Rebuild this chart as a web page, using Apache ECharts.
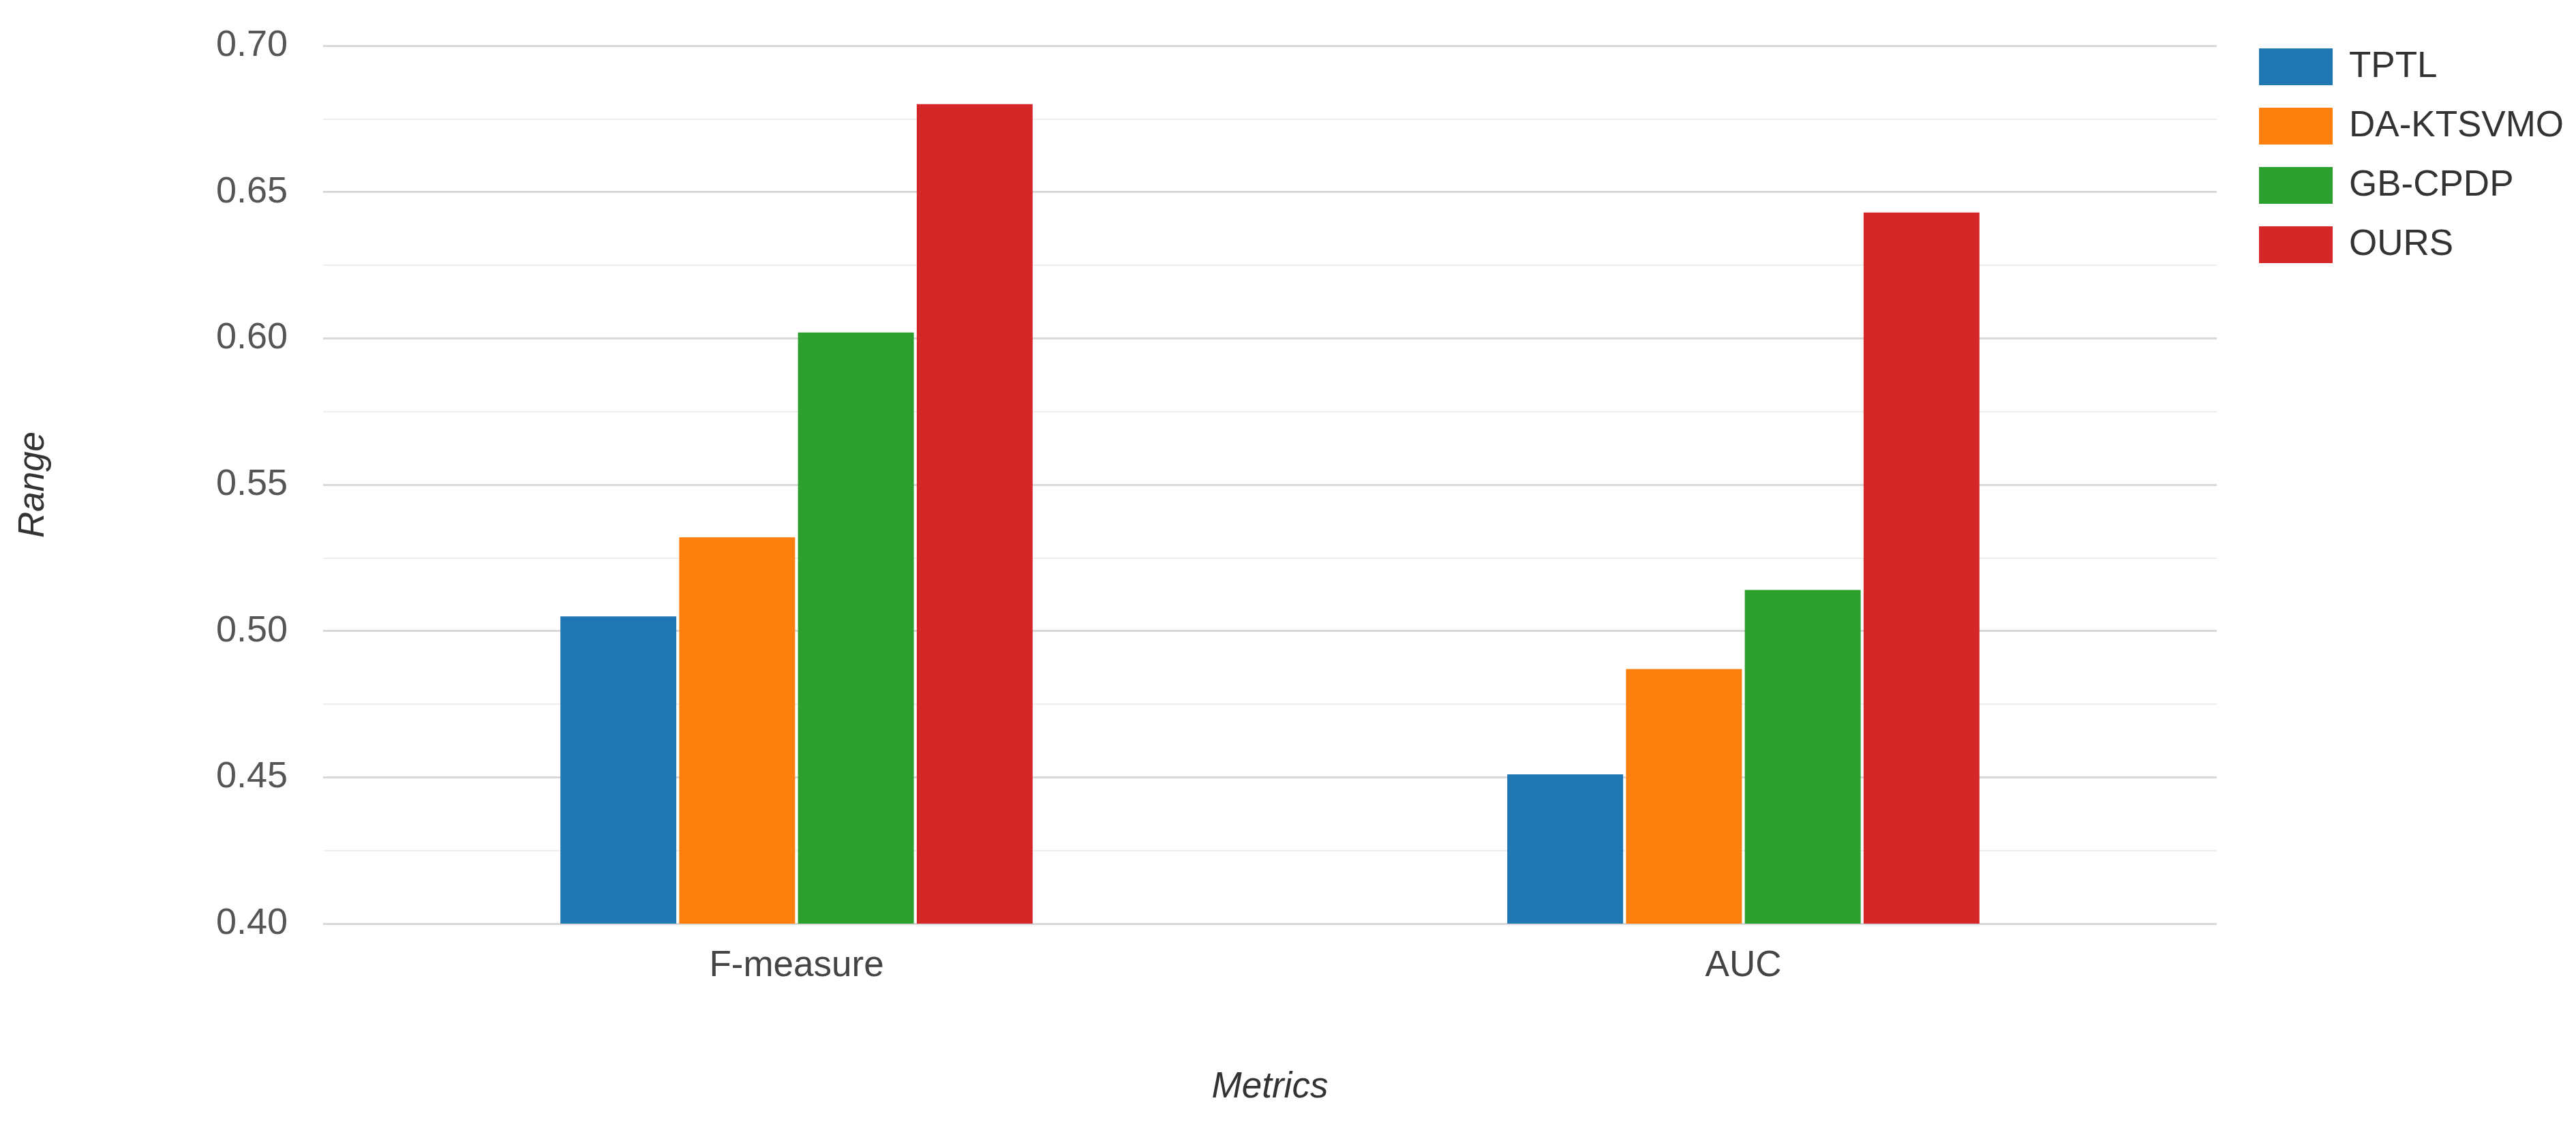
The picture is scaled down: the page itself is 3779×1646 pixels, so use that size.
<!DOCTYPE html>
<html>
<head>
<meta charset="utf-8">
<script src="https://cdn.jsdelivr.net/npm/echarts@6/dist/echarts.min.js"></script>
<style>
  html, body { margin: 0; padding: 0; background: #fff; }
  #chart { width: 3779px; height: 1646px; }
</style>
</head>
<body>
<div id="chart"></div>
<script>
// data
var categories = ['F-measure', 'AUC'];
var seriesNames = ['TPTL', 'DA-KTSVMO', 'GB-CPDP', 'OURS'];
var tptl = [0.505, 0.451];
var daKtsvmo = [0.532, 0.487];
var gbCpdp = [0.602, 0.514];
var ours = [0.680, 0.643];
var colors = ['#1f77b4', '#ff7f0e', '#2ca02c', '#d62728'];

var font = '"Liberation Sans", Arial, sans-serif';
var values = [tptl, daKtsvmo, gbCpdp, ours];

var chart = echarts.init(document.getElementById('chart'));

var series = seriesNames.map(function (name, i) {
  return {
    name: name,
    type: 'bar',
    data: values[i],
    barWidth: 170,
    barGap: '2.5%',
    itemStyle: { color: colors[i] }
  };
});

var option = {
  animation: false,
  color: colors,
  textStyle: { fontFamily: font },
  legend: {
    orient: 'vertical',
    left: 3309,
    top: 66,
    itemWidth: 108,
    itemHeight: 54,
    itemGap: 33,
    icon: 'rect',
    textStyle: { fontSize: 53, color: '#333', fontFamily: font, padding: [0, 0, 0, 19] },
    data: seriesNames
  },
  grid: {
    left: 474,
    right: 527,
    top: 67,
    bottom: 291,
    containLabel: false
  },
  xAxis: {
    type: 'category',
    data: categories,
    name: 'Metrics',
    nameLocation: 'middle',
    nameGap: 214,
    nameTextStyle: { fontSize: 53, fontStyle: 'italic', color: '#333', fontFamily: font },
    axisLine: { show: false },
    axisTick: { show: false },
    axisLabel: { fontSize: 53, color: '#444', margin: 36, fontFamily: font }
  },
  yAxis: {
    type: 'value',
    min: 0.4,
    max: 0.7,
    interval: 0.05,
    name: 'Range',
    nameLocation: 'middle',
    nameGap: 398,
    nameTextStyle: { fontSize: 53, fontStyle: 'italic', color: '#333', fontFamily: font },
    axisLine: { show: false },
    axisTick: { show: false },
    axisLabel: {
      fontSize: 54,
      color: '#555',
      margin: 52,
      fontFamily: font,
      formatter: function (v) { return v.toFixed(2); }
    },
    splitLine: { lineStyle: { color: '#d9d9d9', width: 3 } },
    minorTick: { show: false, splitNumber: 2 },
    minorSplitLine: { show: true, lineStyle: { color: '#eeeeee', width: 2 } }
  },
  series: series
};

chart.setOption(option);
</script>
</body>
</html>
